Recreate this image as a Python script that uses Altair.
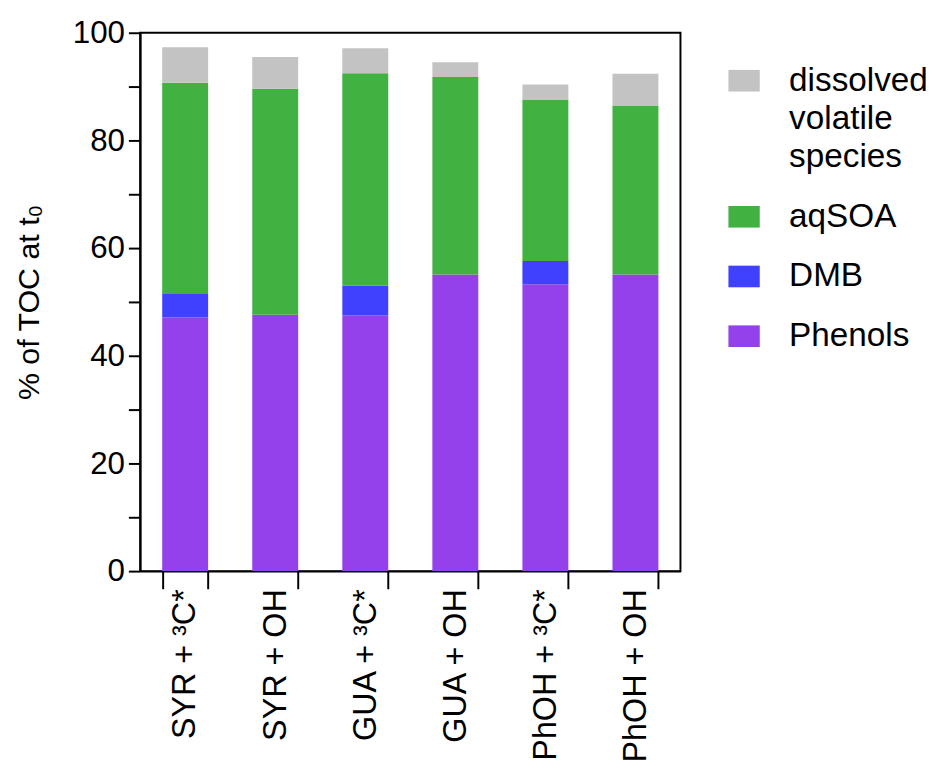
import altair as alt
import pandas as pd

categories = ["SYR + ³C*", "SYR + OH", "GUA + ³C*", "GUA + OH", "PhOH + ³C*", "PhOH + OH"]
phenols = [47.1, 47.6, 47.5, 55.1, 53.3, 55.1]
dmb = [4.5, 0.0, 5.5, 0.0, 4.3, 0.0]
aqsoa = [39.1, 42.0, 39.5, 36.7, 30.0, 31.4]
dissolved = [6.6, 5.9, 4.6, 2.7, 2.8, 5.9]

species = ["dissolved volatile species", "aqSOA", "DMB", "Phenols"]
colors = ["#c3c3c3", "#41b141", "#4040ff", "#9440eb"]
stack_rank = {"Phenols": 0, "DMB": 1, "aqSOA": 2, "dissolved volatile species": 3}

rows = []
for i, c in enumerate(categories):
    for name, series in [("Phenols", phenols), ("DMB", dmb), ("aqSOA", aqsoa),
                         ("dissolved volatile species", dissolved)]:
        rows.append({"cat": c, "species": name, "value": series[i], "rank": stack_rank[name]})
df = pd.DataFrame(rows)

FONT = "Liberation Sans"

chart = alt.Chart(df).mark_bar().encode(
    x=alt.X("cat:N", sort=categories, title=None,
            scale=alt.Scale(paddingInner=0.49, paddingOuter=0.245),
            axis=alt.Axis(labelAngle=-90, labelFontSize=33, labelFont=FONT, labelColor="black",
                          tickSize=18, tickBand="extent", labelPadding=0,
                          domainWidth=2, tickWidth=2, domainColor="black", tickColor="black",
                          labelLimit=400)),
    y=alt.Y("value:Q", scale=alt.Scale(domain=[0, 100], nice=False), title="% of TOC at t₀",
            axis=alt.Axis(values=list(range(0, 101, 10)),
                          labelExpr="datum.value % 20 == 0 ? datum.label : ''",
                          labelFontSize=32, labelFont=FONT, labelColor="black",
                          tickSize=12, labelPadding=4, domainWidth=2, tickWidth=2,
                          domainColor="black", tickColor="black", grid=False,
                          titleFontSize=31, titleFont=FONT, titleFontWeight="normal",
                          titleColor="black", titlePadding=27)),
    color=alt.Color("species:N", scale=alt.Scale(domain=species, range=colors),
                    legend=alt.Legend(title=None, orient="none", legendX=600, legendY=32,
                                      labelFontSize=34, labelFont=FONT, labelColor="black",
                                      labelExpr="datum.label == 'dissolved volatile species' ? ['dissolved', ' volatile', ' species'] : datum.label",
                                      symbolType="M-1,-0.69H1V0.69H-1Z", symbolSize=1024,
                                      symbolStrokeWidth=0, symbolOpacity=1, labelOffset=29,
                                      rowPadding=27, labelLimit=400)),
    order=alt.Order("rank:Q"),
).properties(
    width=552, height=550,
    padding={"left": 6, "top": 1, "right": 5, "bottom": 5},
).configure(
    style={"guide-label": {"lineHeight": 39}}
).configure_view(
    stroke="black", strokeWidth=2
)

chart.save("out.html", embed_options={"renderer": "svg", "actions": False})
